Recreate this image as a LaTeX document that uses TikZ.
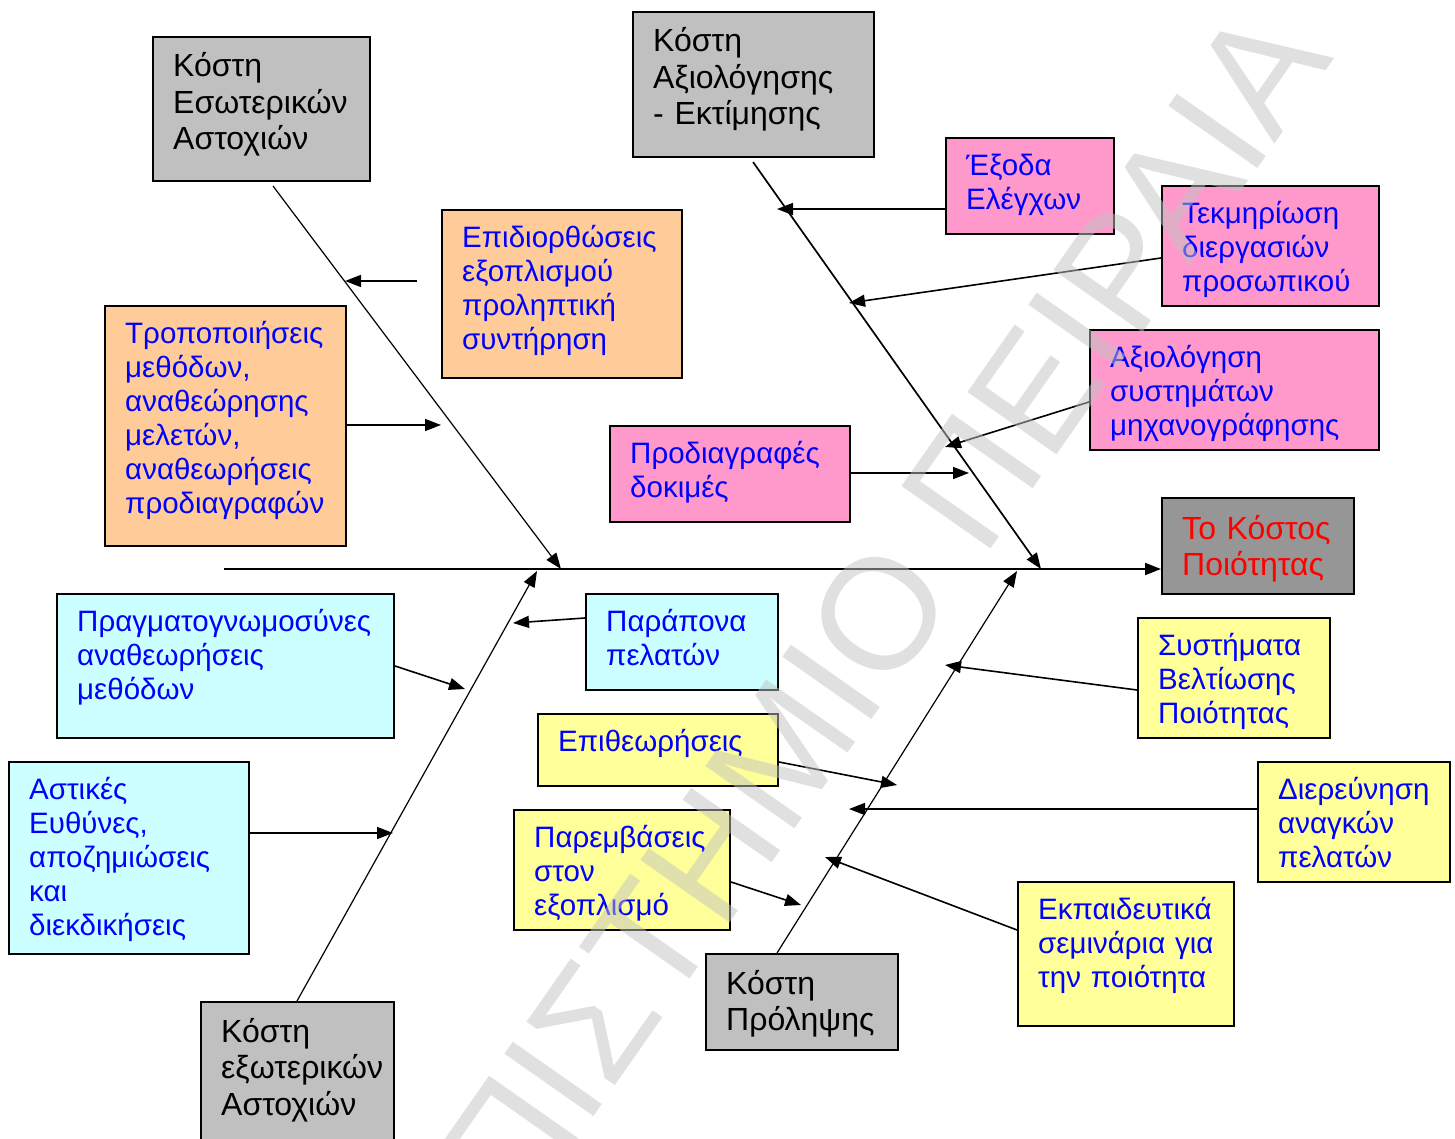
\documentclass[tikz,border=0pt]{standalone}
\usepackage{fontspec}
\setmainfont{Liberation Sans}
\usetikzlibrary{arrows.meta,calc}

\definecolor{boxgray}{HTML}{C0C0C0}
\definecolor{boxdark}{HTML}{969696}
\definecolor{boxpink}{HTML}{FF99CC}
\definecolor{boxorange}{HTML}{FFCC99}
\definecolor{boxcyan}{HTML}{CCFFFF}
\definecolor{boxyellow}{HTML}{FFFF99}
\definecolor{txtblue}{HTML}{0000FF}
\definecolor{txtred}{HTML}{FF0000}
\definecolor{wmgray}{HTML}{C2C2C2}

\tikzset{
  cbox/.style={draw=black, line width=2pt, fill=#1, inner sep=0pt, anchor=north west},
  graytxt/.style={anchor=base west, inner sep=0pt, text width=320pt, align=left,
    font=\fontsize{32}{36.5}\selectfont, text=black},
  redtxt/.style={anchor=base west, inner sep=0pt, text width=320pt, align=left,
    font=\fontsize{32}{36}\selectfont, text=txtred},
  bluetxt/.style={anchor=base west, inner sep=0pt, text width=320pt, align=left,
    font=\fontsize{29.5}{34}\selectfont, text=txtblue},
  tip/.style={-{Triangle[length=16pt,width=12pt]}},
  arr/.style={tip, line width=1.6pt},
  bone/.style={tip, line width=1.2pt},
  spine/.style={tip, line width=2pt},
  wm/.style={rotate=55, anchor=base east, inner sep=0pt, text=wmgray, text opacity=0.5,
    font=\fontsize{158}{158}\selectfont}
}

% name, x, y, width, height, fill, text style, baseline offset, text
\newcommand\causebox[9]{%
  \node[cbox=#6, minimum width=#4pt, minimum height=#5pt] (#1) at (#2,#3) {};
  \node[#7] (#1-t) at ($(#1.north west)+(21,#8)$) {#9};
}

\begin{document}
\begin{tikzpicture}[x=1pt, y=-1pt]
\useasboundingbox (0,0) rectangle (1455,1139);
\clip (0,0) rectangle (1455,1139);
\fill[white] (0,0) rectangle (1455,1139);

% cost categories (gray) and the effect (dark gray)
\causebox{b1}{152}{36}{217}{144}{boxgray}{graytxt}{41}{Κόστη\\Εσωτερικών\\Αστοχιών}
\causebox{b2}{632}{11}{241}{145}{boxgray}{graytxt}{41}{Κόστη\\Αξιολόγησης\\- Εκτίμησης}
\causebox{b18}{705}{953}{192}{96}{boxgray}{graytxt}{41}{Κόστη\\Πρόληψης}
\causebox{b19}{200}{1001}{193}{150}{boxgray}{graytxt}{41}{Κόστη\\εξωτερικών\\Αστοχιών}
\causebox{b9}{1161}{497}{192}{96}{boxdark}{redtxt}{42}{Το Κόστος\\Ποιότητας}

% internal failures (orange)
\causebox{b5}{441}{209}{240}{168}{boxorange}{bluetxt}{38.5}{Επιδιορθώσεις\\εξοπλισμού\\προληπτική\\συντήρηση}
\causebox{b6}{104}{305}{241}{240}{boxorange}{bluetxt}{38.5}{Τροποποιήσεις\\μεθόδων,\\αναθεώρησης\\μελετών,\\αναθεωρήσεις\\προδιαγραφών}

% appraisal (pink)
\causebox{b3}{945}{137}{168}{96}{boxpink}{bluetxt}{38.5}{Έξοδα\\Ελέγχων}
\causebox{b4}{1161}{185}{217}{120}{boxpink}{bluetxt}{38.5}{Τεκμηρίωση\\διεργασιών\\προσωπικού}
\causebox{b7}{1089}{329}{289}{120}{boxpink}{bluetxt}{38.5}{Αξιολόγηση\\συστημάτων\\μηχανογράφησης}
\causebox{b8}{609}{425}{240}{96}{boxpink}{bluetxt}{38.5}{Προδιαγραφές\\δοκιμές}

% external failures (cyan)
\causebox{b10}{56}{593}{337}{144}{boxcyan}{bluetxt}{38.5}{Πραγματογνωμοσύνες\\αναθεωρήσεις\\μεθόδων}
\causebox{b11}{585}{593}{192}{96}{boxcyan}{bluetxt}{38.5}{Παράπονα\\πελατών}
\causebox{b15}{8}{761}{240}{192}{boxcyan}{bluetxt}{38.5}{Αστικές\\Ευθύνες,\\αποζημιώσεις\\και\\διεκδικήσεις}

% prevention (yellow)
\causebox{b12}{1137}{617}{192}{120}{boxyellow}{bluetxt}{38.5}{Συστήματα\\Βελτίωσης\\Ποιότητας}
\causebox{b13}{537}{713}{240}{72}{boxyellow}{bluetxt}{38.5}{Επιθεωρήσεις}
\causebox{b14}{1257}{761}{192}{120}{boxyellow}{bluetxt}{38.5}{Διερεύνηση\\αναγκών\\πελατών}
\causebox{b16}{513}{809}{216}{120}{boxyellow}{bluetxt}{38.5}{Παρεμβάσεις\\στον\\εξοπλισμό}
\causebox{b17}{1017}{881}{216}{144}{boxyellow}{bluetxt}{38.5}{Εκπαιδευτικά\\σεμινάρια για\\την ποιότητα}

% spine and the points where the bones meet it
\coordinate (sp0) at (224,569);
\coordinate (j1) at (561,569);
\coordinate (j2) at (1041,569);
\coordinate (j3) at (537,571);
\coordinate (j4) at (1017,571);
\draw[spine] (sp0) -- (sp0 -| b9.west);

% bones
\draw[bone] ([xshift=121pt,yshift=-4pt]b1.south west) -- (j1);
\draw[bone, line width=1.7pt] ([xshift=121pt,yshift=-4pt]b2.south west) -- (j2);
\draw[bone] ([xshift=97pt]b19.north west) -- (j3);
\draw[bone] ([xshift=72pt]b18.north west) -- (j4);

% arrow tips on the bones
\coordinate (f1) at (417,281);
\coordinate (t1) at (345,281);
\coordinate (t2) at (441,425);
\coordinate (t3) at (777,209);
\coordinate (t4) at (849,303);
\coordinate (t5) at (945,447);
\coordinate (t6) at (969,473);
\coordinate (t7) at (513,623);
\coordinate (t8) at (465,689);
\coordinate (t9) at (393,833);
\coordinate (t10) at (945,665);
\coordinate (t11) at (897,785);
\coordinate (t12) at (849,809);
\coordinate (t13) at (801,905);
\coordinate (t14) at (825,857);

% sub-causes
\draw[arr] (f1) -- (t1);
\draw[arr] (b6.east |- t2) -- (t2);
\draw[arr] (b3.west |- t3) -- (t3);
\draw[arr] ([yshift=-12pt]b4.west) -- (t4);
\draw[arr] ([yshift=-12pt]b7.west) -- (t5);
\draw[arr] (b8.east |- t6) -- (t6);
\draw[arr] ([yshift=24pt]b11.west) -- (t7);
\draw[arr] (b10.east) -- (t8);
\draw[arr] (b15.east |- t9) -- (t9);
\draw[arr] ([yshift=-12pt]b12.west) -- (t10);
\draw[arr] ([yshift=-12pt]b13.east) -- (t11);
\draw[arr] (b14.west |- t12) -- (t12);
\draw[arr] ([yshift=-12pt]b16.east) -- (t13);
\draw[arr] ([yshift=24pt]b17.west) -- (t14);

% watermark
\node[wm] (wmark) at (1335,58) {ΠΑΝΕΠΙΣΤΗΜΙΟ ΠΕΙΡΑΙΑ};
\end{tikzpicture}
\end{document}
